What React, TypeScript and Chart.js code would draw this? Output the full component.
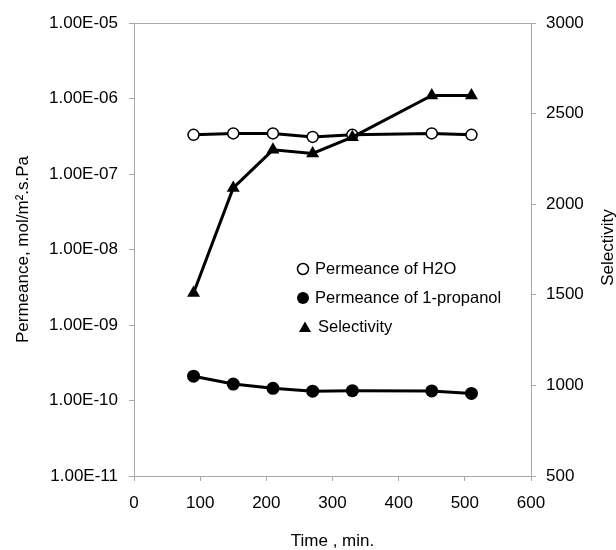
import React, { useEffect, useRef } from 'react';
import { Chart, registerables } from 'chart.js';

Chart.register(...registerables);

// ---- data ----
const times = [90, 150, 210, 270, 330, 450, 510];
const permeanceH2O = [3.3e-7, 3.45e-7, 3.45e-7, 3.1e-7, 3.3e-7, 3.45e-7, 3.3e-7];
const permeancePropanol = [2.1e-10, 1.65e-10, 1.45e-10, 1.33e-10, 1.35e-10, 1.34e-10, 1.24e-10];
const selectivity = [1510, 2090, 2300, 2280, 2370, 2600, 2600];

const xTicks = [0, 100, 200, 300, 400, 500, 600];
const leftTicks = [1e-11, 1e-10, 1e-9, 1e-8, 1e-7, 1e-6, 1e-5];
const rightTicks = [500, 1000, 1500, 2000, 2500, 3000];

const seriesLabels = ['Permeance of H2O', 'Permeance of 1-propanol', 'Selectivity'];
const xTitle = 'Time , min.';
const leftTitle = 'Permeance, mol/m\u00B2.s.Pa';
const rightTitle = 'Selectivity';

const FONT = "'Liberation Sans', Arial, sans-serif";
const AXIS_GREY = '#a8a8a8';

function fmtExp(v: number): string {
  const e = Math.round(Math.log10(v));
  return '1.00E' + (e < 0 ? '-' : '+') + String(Math.abs(e)).padStart(2, '0');
}

const overlayPlugin = {
  id: 'overlay',
  afterDraw(chart: any) {
    const { ctx, chartArea } = chart;
    ctx.save();
    // right axis title (reads bottom to top)
    ctx.fillStyle = '#000';
    ctx.font = `17px ${FONT}`;
    ctx.textAlign = 'center';
    ctx.textBaseline = 'middle';
    ctx.translate(608, (chartArea.top + chartArea.bottom) / 2 - 2);
    ctx.rotate(-Math.PI / 2);
    ctx.fillText(rightTitle, 0, 0);
    ctx.restore();

    // legend inside the plot
    ctx.save();
    const mx = chartArea.left + 169;
    const rows = [chartArea.top + 246, chartArea.top + 275, chartArea.top + 304];
    ctx.font = `16.5px ${FONT}`;
    ctx.textAlign = 'left';
    ctx.textBaseline = 'middle';
    ctx.fillStyle = '#000';
    ctx.strokeStyle = '#000';
    // open circle
    ctx.lineWidth = 1.5;
    ctx.beginPath();
    ctx.arc(mx, rows[0], 5.5, 0, Math.PI * 2);
    ctx.stroke();
    ctx.fillText(seriesLabels[0], mx + 12, rows[0]);
    // filled circle
    ctx.beginPath();
    ctx.arc(mx, rows[1], 6, 0, Math.PI * 2);
    ctx.fill();
    ctx.fillText(seriesLabels[1], mx + 12, rows[1]);
    // triangle
    const r = 7;
    ctx.beginPath();
    ctx.moveTo(mx + 2, rows[2] - r + 1.5);
    ctx.lineTo(mx + 2 + r * 0.866, rows[2] + r / 2 + 1.5);
    ctx.lineTo(mx + 2 - r * 0.866, rows[2] + r / 2 + 1.5);
    ctx.closePath();
    ctx.fill();
    ctx.fillText(seriesLabels[2], mx + 15, rows[2]);
    ctx.restore();
  },
};

export default function App() {
  const ref = useRef<HTMLCanvasElement | null>(null);

  useEffect(() => {
    if (!ref.current) return;
    const chart = new Chart(ref.current, {
      type: 'line',
      data: {
        datasets: [
          {
            label: seriesLabels[2],
            data: times.map((t, i) => ({ x: t, y: selectivity[i] })),
            yAxisID: 'y1',
            borderColor: '#000',
            backgroundColor: '#000',
            borderWidth: 3,
            pointStyle: 'triangle',
            pointRadius: 7.5,
            pointBorderWidth: 0,
            pointBackgroundColor: '#000',
            tension: 0,
          },
          {
            label: seriesLabels[0],
            data: times.map((t, i) => ({ x: t, y: permeanceH2O[i] })),
            yAxisID: 'y',
            borderColor: '#000',
            backgroundColor: '#000',
            borderWidth: 3,
            pointStyle: 'circle',
            pointRadius: 5.5,
            pointBorderWidth: 1.5,
            pointBorderColor: '#000',
            pointBackgroundColor: '#fff',
            tension: 0,
          },
          {
            label: seriesLabels[1],
            data: times.map((t, i) => ({ x: t, y: permeancePropanol[i] })),
            yAxisID: 'y',
            borderColor: '#000',
            backgroundColor: '#000',
            borderWidth: 3,
            pointStyle: 'circle',
            pointRadius: 6.5,
            pointBorderWidth: 0,
            pointBackgroundColor: '#000',
            tension: 0,
          },
        ],
      },
      options: {
        responsive: false,
        animation: false,
        layout: { padding: { top: 23, left: 0, right: 0, bottom: 0 } },
        plugins: {
          legend: { display: false },
          tooltip: { enabled: false },
        },
        scales: {
          x: {
            type: 'linear',
            position: 'bottom',
            min: 0,
            max: 600,
            afterBuildTicks: (s: any) => {
              s.ticks = xTicks.map((v) => ({ value: v }));
            },
            afterFit: (s: any) => {
              s.height = 74;
            },
            ticks: {
              color: '#000',
              font: { family: FONT, size: 17 },
              padding: 12,
              maxRotation: 0,
              autoSkip: false,
              callback: (v: any) => String(v),
            },
            grid: {
              drawOnChartArea: false,
              drawTicks: true,
              tickLength: 5,
              tickColor: AXIS_GREY,
              color: AXIS_GREY,
            },
            border: { display: true, color: AXIS_GREY, width: 1 },
            title: {
              display: true,
              text: xTitle,
              color: '#000',
              font: { family: FONT, size: 17, lineHeight: 1 },
              padding: { top: 0, bottom: 0 },
            },
          },
          y: {
            type: 'logarithmic',
            position: 'left',
            min: 1e-11,
            max: 1e-5,
            afterBuildTicks: (s: any) => {
              s.ticks = leftTicks.map((v) => ({ value: v }));
            },
            afterFit: (s: any) => {
              s.width = 134;
            },
            ticks: {
              color: '#000',
              font: { family: FONT, size: 17 },
              padding: 11,
              autoSkip: false,
              callback: (v: any) => fmtExp(Number(v)),
            },
            grid: {
              drawOnChartArea: true,
              drawTicks: true,
              tickLength: 5,
              tickColor: AXIS_GREY,
              color: (c: any) =>
                c.tick && Math.abs(Math.log10(c.tick.value) + 5) < 1e-6 ? AXIS_GREY : 'rgba(0,0,0,0)',
            },
            border: { display: true, color: AXIS_GREY, width: 1 },
            title: {
              display: true,
              text: leftTitle,
              color: '#000',
              font: { family: FONT, size: 17, lineHeight: 1 },
              padding: { top: 14.5, bottom: 0 },
            },
          },
          y1: {
            type: 'linear',
            position: 'right',
            min: 500,
            max: 3000,
            afterBuildTicks: (s: any) => {
              s.ticks = rightTicks.map((v) => ({ value: v }));
            },
            afterFit: (s: any) => {
              s.width = 85;
            },
            ticks: {
              color: '#000',
              font: { family: FONT, size: 17 },
              padding: 10,
              autoSkip: false,
              callback: (v: any) => String(v),
            },
            grid: {
              drawOnChartArea: false,
              drawTicks: true,
              tickLength: 5,
              tickColor: AXIS_GREY,
              color: AXIS_GREY,
            },
            border: { display: true, color: AXIS_GREY, width: 1 },
          },
        },
      },
      plugins: [overlayPlugin],
    } as any);
    return () => chart.destroy();
  }, []);

  return (
    <canvas
      ref={ref}
      width={616}
      height={550}
      style={{ position: 'absolute', left: 0, top: 0, width: 616, height: 550, display: 'block' }}
    />
  );
}
